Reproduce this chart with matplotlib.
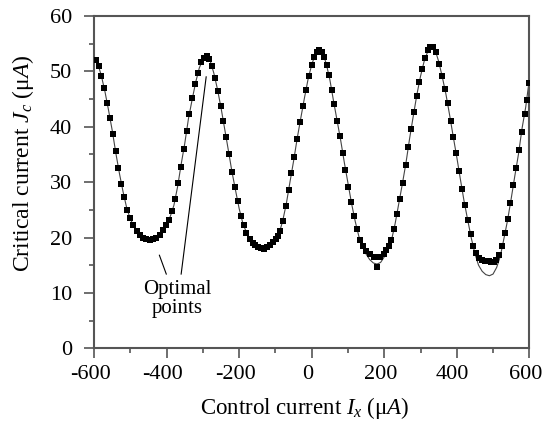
import matplotlib
matplotlib.use('Agg')
import matplotlib.pyplot as plt
from matplotlib.ticker import MultipleLocator
from matplotlib.transforms import ScaledTranslation

# measured points (control current in uA, critical current in uA)
meas_x = [-596, -587, -580, -572, -564, -556, -548, -541, -533, -525, -517, -509,
          -501, -492, -483, -474, -465, -456, -446, -437, -428, -419, -410, -402,
          -393, -384, -376, -368, -361, -352, -345, -338, -329, -321, -313, -306,
          -298, -290, -282, -275, -266, -259, -251, -244, -236, -228, -220, -212,
          -204, -196, -188, -180, -171, -163, -155, -147, -139, -131, -123, -115,
          -107, -99, -93, -87, -80, -71, -64, -56, -48, -41, -32, -24,
          -16, -8, 0, 7, 14, 21, 28, 35, 41, 48, 55, 62,
          70, 78, 85, 93, 101, 109, 117, 125, 134, 142, 151, 161,
          171, 180, 189, 198, 206, 213, 220, 227, 235, 243, 251, 259,
          266, 274, 282, 289, 297, 304, 313, 320, 327, 335, 342, 351,
          359, 367, 375, 383, 390, 398, 406, 414, 422, 431, 438, 445,
          453, 461, 470, 479, 488, 495, 502, 509, 517, 525, 532, 540,
          548, 556, 564, 572, 579, 587, 593, 599]
meas_y = [52.1, 51.0, 49.2, 46.9, 44.3, 41.5, 38.6, 35.6, 32.6, 29.7, 27.3, 25.0,
          23.5, 22.3, 21.2, 20.5, 19.9, 19.7, 19.6, 19.7, 19.9, 20.5, 21.4, 22.3,
          23.2, 24.8, 27.0, 29.9, 32.8, 36.0, 39.2, 42.3, 45.1, 47.7, 49.7, 51.6,
          52.4, 52.7, 52.2, 50.9, 48.8, 46.5, 43.8, 41.1, 38.2, 35.0, 31.9, 29.2,
          26.5, 23.9, 22.2, 20.9, 19.7, 19.0, 18.6, 18.3, 18.1, 18.0, 18.3, 18.6,
          19.2, 19.8, 20.3, 21.1, 23.0, 25.7, 28.5, 31.6, 34.6, 37.8, 40.9, 43.8,
          46.6, 49.2, 51.2, 52.6, 53.5, 53.8, 53.5, 52.6, 51.1, 49.3, 46.6, 44.1,
          41.1, 38.3, 35.2, 32.2, 29.2, 26.4, 23.8, 21.5, 19.6, 18.4, 17.6, 17.0,
          16.4, 14.7, 16.5, 17.0, 17.7, 18.5, 19.5, 21.5, 24.2, 27.0, 29.9, 33.1,
          36.4, 39.5, 42.7, 45.6, 48.1, 50.4, 52.4, 53.8, 54.3, 54.3, 53.5, 51.4,
          49.2, 46.8, 44.2, 41.0, 38.1, 35.2, 32.0, 28.8, 25.9, 23.2, 20.6, 18.5,
          17.15, 16.25, 15.9, 15.8, 15.8, 15.65, 15.65, 15.9, 16.85, 18.5, 20.8, 23.3,
          26.2, 29.4, 32.6, 35.8, 39.1, 42.3, 44.8, 47.9]

# fitted curve
fit_x = list(range(-600, 601, 10))
fit_y = [52.5, 51.4, 49.2, 46.3, 42.9, 39.3, 35.2, 31.5, 28.2, 25.3, 23.3, 22.0,
         21.0, 20.2, 19.8, 19.6, 19.6, 19.8, 20.4, 21.4, 22.6, 23.8, 25.8, 29.1,
         33.2, 37.0, 41.4, 44.8, 48.0, 50.6, 52.2, 52.7, 51.9, 49.7, 46.8, 43.4,
         39.6, 35.8, 31.9, 28.5, 25.2, 22.6, 20.9, 19.6, 18.8, 18.4, 18.1, 18.0,
         18.2, 18.9, 19.7, 20.7, 23.0, 26.1, 30.0, 33.8, 37.9, 41.6, 45.2, 48.6,
         51.2, 53.1, 53.8, 53.4, 51.4, 48.5, 44.7, 41.1, 37.5, 33.5, 29.8, 26.1,
         22.9, 20.2, 18.4, 17.0, 16.0, 15.4, 15.2, 15.5, 16.5, 17.9, 19.5, 22.5,
         26.1, 29.7, 33.5, 37.9, 41.9, 45.8, 49.1, 51.8, 53.6, 54.3, 53.9, 51.8,
         49.0, 45.9, 42.2, 38.3, 34.5, 30.5, 26.6, 23.2, 19.9, 17.1, 15.0, 13.9,
         13.3, 13.1, 13.4, 14.6, 16.6, 19.8, 23.1, 27.0, 31.1, 35.0, 39.7, 43.5,
         48.5]

x_ticks = [-600, -400, -200, 0, 200, 400, 600]
x_labels = ['-600', '-400', '-200', '0', '200', '400', '600']

plt.rcParams['font.family'] = ['Liberation Serif', 'DejaVu Serif']
plt.rcParams['mathtext.fontset'] = 'custom'
plt.rcParams['mathtext.rm'] = 'Liberation Serif'
plt.rcParams['mathtext.it'] = 'Liberation Serif:italic'

fig = plt.figure(figsize=(5.44, 4.30), dpi=100)
ax = fig.add_axes([0.173, 0.19, 0.8, 0.773])

ax.plot(fit_x, fit_y, color='#444444', lw=0.8, zorder=2)
ax.plot(meas_x, meas_y, 's', color='black', ms=4.6, mew=0, zorder=3)

# "Optimal points" pointers
ax.plot([-420, -401], [16.8, 13.4], color='black', lw=0.8)
ax.plot([-360, -291], [13.4, 49.0], color='black', lw=0.8)
ax.text(-371, 8.9, 'Optimal\npoints', ha='center', va='center', fontsize=15,
        linespacing=1.0)

ax.set_xlim(-600, 600)
ax.set_ylim(0, 60)
ax.set_xticks(x_ticks)
ax.set_xticklabels(x_labels)
ax.xaxis.set_minor_locator(MultipleLocator(100))
ax.yaxis.set_major_locator(MultipleLocator(10))
ax.yaxis.set_minor_locator(MultipleLocator(5))
ax.tick_params(which='both', direction='out', top=False, right=False,
               color='#555555', width=1.2, labelsize=16)
ax.tick_params(axis='x', which='major', length=7, pad=5)
ax.tick_params(axis='y', which='major', length=7, pad=9)
ax.tick_params(which='minor', length=3.5)
# tick labels sit a little left of their ticks in the original
shift = ScaledTranslation(-4 / 100, 0, fig.dpi_scale_trans)
for lab in ax.get_xticklabels():
    lab.set_transform(lab.get_transform() + shift)
for sp in ax.spines.values():
    sp.set_color('#555555')
    sp.set_linewidth(1.5)

ax.set_xlabel(r'Control current $I_x\ \mathit{(}\mathrm{μ}\mathit{A)}$',
              fontsize=16.5, ha='center', va='center')
ax.xaxis.set_label_coords(0.485, -0.18)
ax.set_ylabel(r'Critical current $J_c\ \mathit{(}\mathrm{μ}\mathit{A)}$',
              fontsize=17, ha='center', va='center')
ax.yaxis.set_label_coords(-0.163, 0.556)

fig.savefig('out.png', dpi=100)
